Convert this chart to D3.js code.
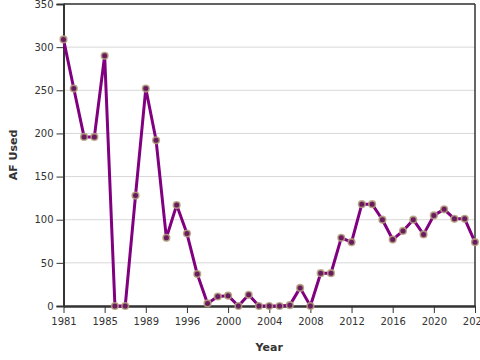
<!DOCTYPE html>
<html><head><meta charset="utf-8">
<script src="https://cdn.jsdelivr.net/npm/d3@7"></script>
<style>
body{margin:0;background:#fff;}
svg{display:block;font-family:"DejaVu Sans",sans-serif;}
</style></head>
<body><svg id="chart" width="480" height="360"></svg>
<script>
const years = [1981,1982,1983,1984,1985,1986,1987,1988,1989,1992,1993,1995,1996,1997,1998,1999,2000,2001,2002,2003,2004,2005,2006,2007,2008,2009,2010,2011,2012,2013,2014,2015,2016,2017,2018,2019,2020,2021,2022,2023,2024];
const afUsed = [309,252,196,196,290,0,0,128,252,192,79,117,84,37,3,11,12,0,13,0,0,0,1,21,0,38,38,79,74,118,118,100,77,87,100,83,105,112,101,101,74];
const yTicks = [0,50,100,150,200,250,300,350];
const xLabel = "Year";
const yLabel = "AF Used";

const svg = d3.select("#chart");
const m = {l:63.5, r:475, t:4, b:306};
const x = d3.scalePoint().domain(years.map(String)).range([m.l, m.r]).padding(0);
const y = d3.scaleLinear().domain([0,350]).range([m.b, m.t]);

// gridlines
svg.append("g").selectAll("line").data(yTicks).join("line")
  .attr("x1", m.l).attr("x2", m.r)
  .attr("y1", d=>y(d)).attr("y2", d=>y(d))
  .attr("stroke", "#d8d8d8").attr("stroke-width", 1);

// frame top/right
svg.append("line").attr("x1", m.l).attr("x2", m.r).attr("y1", m.t).attr("y2", m.t)
  .attr("stroke", "#333").attr("stroke-width", 1.5);
svg.append("line").attr("x1", m.r).attr("x2", m.r).attr("y1", m.t).attr("y2", m.b)
  .attr("stroke", "#333").attr("stroke-width", 1.5);

// y axis
const ya = svg.append("g").attr("transform", `translate(${m.l},0)`)
  .call(d3.axisLeft(y).tickValues(yTicks).tickSize(7).tickPadding(3));
ya.select(".domain").attr("stroke", "#333").attr("stroke-width", 2);
ya.selectAll(".tick line").attr("stroke", "#333");
ya.selectAll("text").attr("font-size", 10).attr("fill", "#333").attr("font-family", "DejaVu Sans");

// x axis
const tickYears = years.filter((d,i)=>i%4===0).map(String);
const xa = svg.append("g").attr("transform", `translate(0,${m.b})`)
  .call(d3.axisBottom(x).tickValues(tickYears).tickSize(7).tickPadding(5).tickSizeOuter(0));
xa.select(".domain").attr("stroke", "#333").attr("stroke-width", 2.5);
xa.selectAll(".tick line").attr("stroke", "#333");
xa.selectAll("text").attr("font-size", 10).attr("fill", "#333").attr("font-family", "DejaVu Sans");

// line
const line = d3.line().x((d,i)=>x(String(years[i]))).y(d=>y(d));
svg.append("path").datum(afUsed).attr("d", line)
  .attr("fill", "none").attr("stroke", "#800080").attr("stroke-width", 3)
  .attr("stroke-linejoin", "round");

// points
svg.append("g").selectAll("circle").data(afUsed).join("circle")
  .attr("cx", (d,i)=>x(String(years[i]))).attr("cy", d=>y(d)).attr("r", 3.3)
  .attr("fill", "#6a1a5e").attr("stroke", "#b4a27e").attr("stroke-opacity", 0.85).attr("stroke-width", 1.6);

// axis titles
svg.append("text").attr("x", (m.l+m.r)/2).attr("y", 351).attr("text-anchor", "middle")
  .attr("font-size", 11).attr("font-weight", "bold").attr("fill", "#333").text(xLabel);
svg.append("text").attr("transform", `translate(17,${(m.t+m.b)/2}) rotate(-90)`)
  .attr("text-anchor", "middle").attr("font-size", 11).attr("font-weight", "bold")
  .attr("fill", "#333").text(yLabel);
</script></body></html>
